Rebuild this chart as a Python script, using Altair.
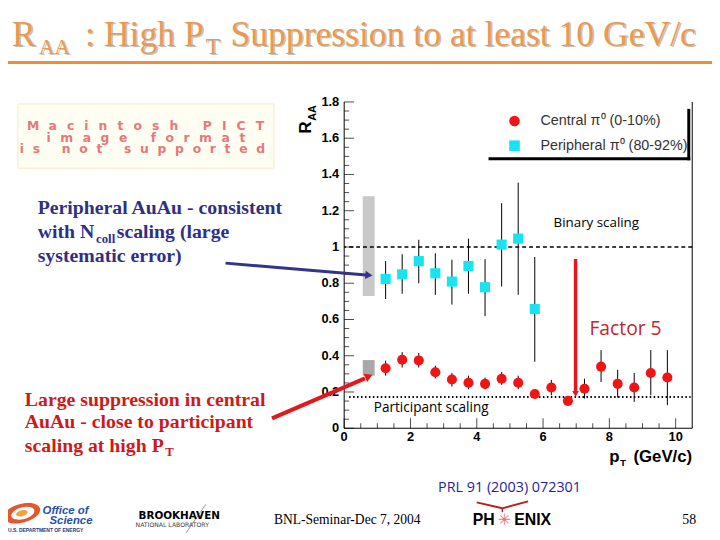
import altair as alt
import pandas as pd

# ---------------- data ----------------
central_pt = [1.25, 1.75, 2.25, 2.75, 3.25, 3.75, 4.25, 4.75, 5.25, 5.75,
              6.25, 6.75, 7.25, 7.75, 8.25, 8.75, 9.25, 9.75]
central_raa = [0.331, 0.378, 0.374, 0.309, 0.269, 0.251, 0.245, 0.273, 0.251, 0.189,
               0.225, 0.151, 0.218, 0.340, 0.245, 0.225, 0.305, 0.280]
central_lo = [0.290, 0.335, 0.335, 0.275, 0.230, 0.215, 0.215, 0.240, 0.215, 0.165,
              0.182, 0.130, 0.164, 0.255, 0.169, 0.146, 0.182, 0.127]
central_hi = [0.373, 0.420, 0.415, 0.345, 0.305, 0.290, 0.280, 0.310, 0.290, 0.215,
              0.267, 0.175, 0.273, 0.431, 0.322, 0.305, 0.431, 0.431]

periph_pt = [1.25, 1.75, 2.25, 2.75, 3.25, 3.75, 4.25, 4.75, 5.25, 5.75]
periph_raa = [0.824, 0.849, 0.922, 0.855, 0.809, 0.895, 0.778, 1.013, 1.046, 0.658]
periph_lo = [0.713, 0.742, 0.800, 0.736, 0.682, 0.742, 0.618, 0.782, 0.736, 0.367]
periph_hi = [0.922, 0.960, 1.040, 0.965, 0.930, 1.046, 0.933, 1.242, 1.355, 0.945]

sys_x = [0.56, 0.92]
sys_periph = [0.73, 1.28]
sys_central = [0.29, 0.376]

binary_level = [1.0]
participant_level = [0.173]
participant_x = [0.15, 10.45]
factor5_x = [6.98]
factor5_y = [0.933, 0.19]

x_major = [0, 2, 4, 6, 8, 10]
x_labels = ["0", "2", "4", "6", "8", "10"]
x_minor = [0.5, 1, 1.5, 2.5, 3, 3.5, 4.5, 5, 5.5, 6.5, 7, 7.5, 8.5, 9, 9.5]
y_major = [0, 0.2, 0.4, 0.6, 0.8, 1.0, 1.2, 1.4, 1.6, 1.8]
y_labels = ["0", "0.2", "0.4", "0.6", "0.8", "1", "1.2", "1.4", "1.6", "1.8"]
y_minor = [round(v / 100, 2) for v in range(5, 180, 5) if v % 20 != 0]

LBL_C = "Central \u03c0\u2070 (0-10%)"
LBL_P = "Peripheral \u03c0\u2070 (80-92%)"

# ---------------- styling ----------------
RED = "#F01414"
CYAN = "#18E3F0"
NAVY = "#2E2F86"
SLIDE_RED = "#CC1A1A"
ARROW_RED = "#E2181D"
ORANGE = "#E99A50"

OX, OY = 348, 100   # page position of plot origin
W, H = 352, 330

xs = alt.Scale(domain=[0, 10.5], nice=False, zero=False)
ys = alt.Scale(domain=[0, 1.8], nice=False, zero=False)

one = pd.DataFrame({"k": [0]})
layers = []


def T(text, px, py, size, color="black", font="Liberation Serif", weight="normal",
      align="left", baseline="alphabetic", angle=None, style=None):
    kw = dict(text=text, fontSize=size, color=color, font=font, fontWeight=weight,
              align=align, baseline=baseline)
    if angle is not None:
        kw["angle"] = angle
    if style is not None:
        kw["fontStyle"] = style
    layers.append(alt.Chart(one).mark_text(**kw).encode(
        x=alt.value(px - OX), y=alt.value(py - OY)))


def R(x1, y1, x2, y2, color="black", width=1.0, dash=None):
    kw = dict(color=color, strokeWidth=width)
    if dash is not None:
        kw["strokeDash"] = dash
    layers.append(alt.Chart(one).mark_rule(**kw).encode(
        x=alt.value(x1 - OX), y=alt.value(y1 - OY),
        x2=alt.value(x2 - OX), y2=alt.value(y2 - OY)))


def P(px, py, shape, size, color, angle=0):
    layers.append(alt.Chart(one).mark_point(
        shape=shape, size=size, filled=True, color=color, opacity=1, angle=angle,
        strokeWidth=0).encode(x=alt.value(px - OX), y=alt.value(py - OY)))


def BOX(x1, y1, x2, y2, fill, stroke=None):
    kw = dict(color=fill)
    if stroke is not None:
        kw["stroke"] = stroke
        kw["strokeWidth"] = 1
    layers.append(alt.Chart(one).mark_rect(**kw).encode(
        x=alt.value(x1 - OX), y=alt.value(y1 - OY),
        x2=alt.value(x2 - OX), y2=alt.value(y2 - OY)))


# ---------------- plot layers ----------------
sys_df = pd.DataFrame({"x1": [sys_x[0]], "x2": [sys_x[1]],
                       "y1": [sys_periph[0]], "y2": [sys_periph[1]]})
sys_df2 = pd.DataFrame({"x1": [sys_x[0]], "x2": [sys_x[1]],
                        "y1": [sys_central[0]], "y2": [sys_central[1]]})
for d, c in [(sys_df, "#C8C8C8"), (sys_df2, "#A8A8A8")]:
    layers.append(alt.Chart(d).mark_rect(color=c).encode(
        x=alt.X("x1:Q", scale=xs, axis=None), x2="x2:Q",
        y=alt.Y("y1:Q", scale=ys, axis=None), y2="y2:Q"))

layers.append(alt.Chart(pd.DataFrame({"y": binary_level})).mark_rule(
    color="black", strokeWidth=1.5, strokeDash=[4, 3]).encode(
    y=alt.Y("y:Q", scale=ys, axis=None)))

layers.append(alt.Chart(pd.DataFrame({"y": participant_level, "x1": [participant_x[0]],
                                      "x2": [participant_x[1]]})).mark_rule(
    color="black", strokeWidth=2, strokeDash=[1.5, 2.5]).encode(
    x=alt.X("x1:Q", scale=xs, axis=None), x2="x2:Q",
    y=alt.Y("y:Q", scale=ys, axis=None)))

pts = pd.DataFrame({
    "pt": central_pt + periph_pt,
    "raa": central_raa + periph_raa,
    "lo": central_lo + periph_lo,
    "hi": central_hi + periph_hi,
    "series": [LBL_C] * len(central_pt) + [LBL_P] * len(periph_pt),
})

layers.append(alt.Chart(pts).mark_rule(color="black", strokeWidth=1).encode(
    x=alt.X("pt:Q", scale=xs, axis=None),
    y=alt.Y("lo:Q", scale=ys, axis=None), y2="hi:Q"))

leg = alt.Legend(title=None, orient="none", legendX=165, legendY=12,
                 labelFont="Liberation Sans", labelFontSize=14.5, labelColor="#333333",
                 symbolSize=115, rowPadding=10, labelOffset=19, padding=0,
                 symbolStrokeWidth=0)

layers.append(alt.Chart(pts).mark_point(filled=True, opacity=1, size=105, strokeWidth=0).encode(
    x=alt.X("pt:Q", scale=xs, axis=None),
    y=alt.Y("raa:Q", scale=ys, axis=None),
    color=alt.Color("series:N", scale=alt.Scale(domain=[LBL_C, LBL_P], range=[RED, CYAN]),
                    legend=leg),
    shape=alt.Shape("series:N", scale=alt.Scale(domain=[LBL_C, LBL_P],
                                                range=["circle", "square"]), legend=leg),
))

# Factor-5 arrow (data space)
f5 = pd.DataFrame({"x": factor5_x, "y1": [factor5_y[0]], "y2": [factor5_y[1]]})
layers.append(alt.Chart(f5).mark_rule(color=ARROW_RED, strokeWidth=3.5).encode(
    x=alt.X("x:Q", scale=xs, axis=None), y=alt.Y("y1:Q", scale=ys, axis=None), y2="y2:Q"))
layers.append(alt.Chart(f5).mark_point(shape="triangle-down", filled=True, size=45,
                                       color=ARROW_RED, opacity=1).encode(
    x=alt.X("x:Q", scale=xs, axis=None), y=alt.Y("y2:Q", scale=ys, axis=None)))

# axes: domain lines, inward ticks, labels
R(348, 100, 348, 430, "black", 1)
R(348, 430, 700, 430, "black", 1)
R(700, 100, 700, 430, "black", 1)
for vals, ln in [(y_major, 10), (y_minor, 5)]:
    layers.append(alt.Chart(pd.DataFrame({"v": vals})).mark_tick(
        orient="horizontal", size=ln, thickness=1, color="black").encode(
        y=alt.Y("v:Q", scale=ys, axis=None), x=alt.value(ln / 2)))
for vals, ln in [(x_major, 10), (x_minor, 5)]:
    layers.append(alt.Chart(pd.DataFrame({"v": vals})).mark_tick(
        orient="vertical", size=ln, thickness=1, color="black").encode(
        x=alt.X("v:Q", scale=xs, axis=None), y=alt.value(H - ln / 2)))
layers.append(alt.Chart(pd.DataFrame({"v": y_major, "lab": y_labels})).mark_text(
    align="right", baseline="middle", font="Liberation Sans", fontWeight="bold",
    fontSize=13, color="black").encode(
    y=alt.Y("v:Q", scale=ys, axis=None), x=alt.value(-5), text="lab:N"))
layers.append(alt.Chart(pd.DataFrame({"v": x_major, "lab": x_labels})).mark_text(
    align="center", baseline="top", font="Liberation Sans", fontWeight="bold",
    fontSize=13, color="black").encode(
    x=alt.X("v:Q", scale=xs, axis=None), y=alt.value(H + 3), text="lab:N"))

# legend shadow
R(494, 157.5, 698, 157.5, "black", 3)
R(696.5, 107, 696.5, 159, "black", 3)

# axis titles
T("R", 314, 132, 17, "black", "Liberation Sans", "bold", angle=270)
T("AA", 320, 119, 11, "black", "Liberation Sans", "bold", angle=270)
T("p", 616, 464, 17, "black", "Liberation Sans", "bold")
T("T", 627, 468, 10, "black", "Liberation Sans", "bold")
T("(GeV/c)", 700, 464, 17, "black", "Liberation Sans", "bold", align="right")

# annotations in the plot
T("Binary scaling", 603, 226, 13.5, "black", "Open Sans", align="center")
T("Participant scaling", 378, 414, 13.7, "black", "Open Sans")
T("Factor 5", 596, 336, 19.5, "#C3272E", "Open Sans")

# ---------------- slide decorations ----------------
# title with shadow
title_parts = [("R", 12, 43, 36), ("AA", 39, 51, 22), (": High P", 86, 43, 36),
               ("T", 208, 51, 24), ("Suppression to at least 10 GeV/c", 233, 43, 36)]
for txt, x, y, s in title_parts:
    T(txt, x + 1.5, y + 1.5, s, "#C9C1B9", "Liberation Serif")
for txt, x, y, s in title_parts:
    T(txt, x, y, s, ORANGE, "Liberation Serif")
R(8, 60, 720, 60, "#EE8E3A", 3)

# "Macintosh PICT" placeholder box (wide letter-spaced text)
BOX(18, 102, 277, 167, "#FFFEF2", "#F3EBC8")
adv = {"M": .86, "a": .68, "c": .59, "i": .34, "n": .71, "t": .48, "o": .69, "s": .6,
       "h": .71, " ": .35, "P": .73, "I": .37, "C": .73, "T": .68, "m": 1.04, "g": .72,
       "e": .68, "f": .44, "r": .49, "u": .71, "p": .72, "d": .72}
FS = 12.5
for line, left, right, base in [("Macintosh PICT", 28, 267, 128),
                                ("image format", 47, 248, 140),
                                ("is not supported", 20, 268, 152)]:
    widths = [adv[c] * FS for c in line]
    gap = (right - left - sum(widths)) / (len(line) - 1)
    pos = left
    for c, wd in zip(line, widths):
        if c != " ":
            T(c, pos + wd / 2, base, FS, "#E8777B", "DejaVu Sans", "bold", align="center")
        pos += wd + gap

# left explanatory texts
T("Peripheral AuAu - consistent", 38, 213, 20, NAVY, "Liberation Serif", "bold")
T("with N", 38, 238, 20, NAVY, "Liberation Serif", "bold")
T("coll", 97, 243, 13, NAVY, "Liberation Serif", "bold")
T("scaling (large", 118, 238, 20, NAVY, "Liberation Serif", "bold")
T("systematic error)", 38, 262, 20, NAVY, "Liberation Serif", "bold")

T("Large suppression in central", 25, 407, 20, SLIDE_RED, "Liberation Serif", "bold")
T("AuAu - close to participant", 25, 430, 20, SLIDE_RED, "Liberation Serif", "bold")
T("scaling at high P", 25, 454, 20, SLIDE_RED, "Liberation Serif", "bold")
T("T", 167, 458, 13, SLIDE_RED, "Liberation Serif", "bold")

# arrows
R(228, 263, 370, 275, "#33338A", 3)
P(373, 275.3, "triangle-right", 70, "#33338A", angle=5)
R(275, 420, 369, 379.5, ARROW_RED, 4)
P(373, 377.5, "triangle-right", 80, ARROW_RED, angle=336)

# footer
T("PRL 91 (2003) 072301", 443, 494, 14.5, "#1F239A", "Open Sans")
T("BNL-Seminar-Dec 7, 2004", 277, 527, 13.7, "black", "Liberation Serif")
T("58", 690, 527, 14, "black", "Liberation Serif")

# PHENIX logo
R(482, 505, 508, 511, "#B52020", 2)
R(508, 511, 534, 504, "#B52020", 2)
R(508, 511, 508, 515, "#B52020", 1.5)
T("PH", 478, 528, 16, "black", "Liberation Sans", "bold")
T("\u2733", 510, 528, 16, "#E8707A", "DejaVu Sans", align="center")
T("ENIX", 520, 528, 16, "black", "Liberation Sans", "bold")

# Office of Science logo
ELL = "M-1,0A1,0.5,0,1,1,1,0A1,0.5,0,1,1,-1,0Z"
P(22, 516, ELL, 38 * 38, "#E4572E", angle=345)
P(23, 516, ELL, 24 * 24, "#FFFFFF", angle=345)
P(22, 516, ELL, 12 * 12, "#F2A23A", angle=345)
T("Office of", 43, 517, 11.5, "#2352A6", "Liberation Sans", "bold", style="italic")
T("Science", 50, 527, 11.5, "#2352A6", "Liberation Sans", "bold", style="italic")
T("U.S. DEPARTMENT OF ENERGY", 8, 535, 5, "#203A80", "Liberation Sans", "bold")

# Brookhaven logo
R(188, 536, 208, 507, "#9A9A9A", 1)
T("BROOKHAVEN", 140, 522, 10.5, "black", "DejaVu Sans", "bold")
T("NATIONAL LABORATORY", 137, 530, 6.2, "#444444", "DejaVu Sans")

chart = alt.layer(*layers).properties(
    width=W, height=H,
    padding={"left": 340, "top": 92, "right": 20, "bottom": 110},
    autosize=alt.AutoSizeParams(type="none"),
    background="white",
).configure_view(stroke=None)

chart.save("out.html", embed_options={"renderer": "svg", "actions": False})
